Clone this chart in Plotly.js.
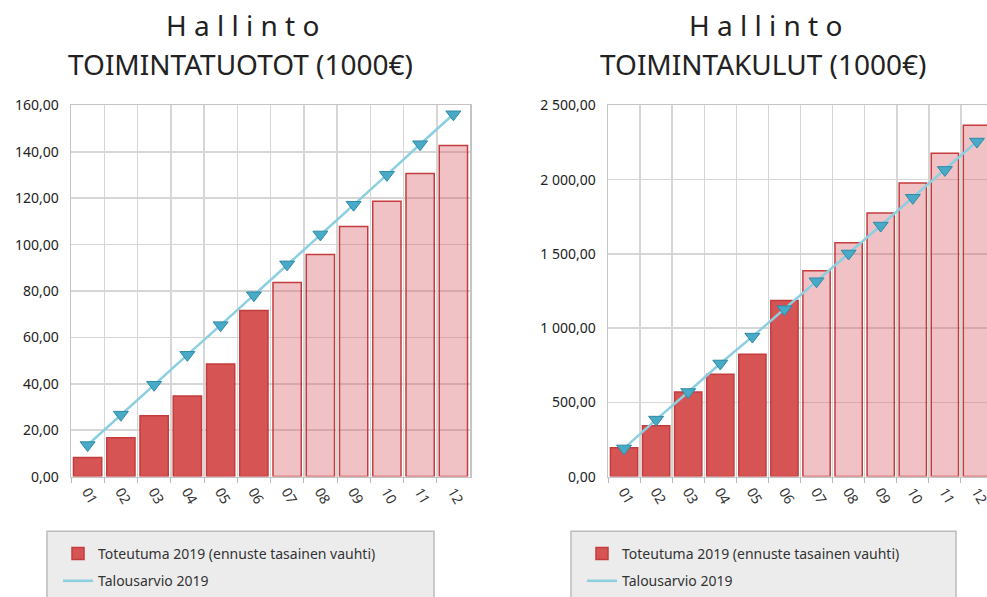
<!DOCTYPE html>
<html>
<head>
<meta charset="utf-8">
<script src="https://cdn.plot.ly/plotly-3.0.1.min.js"></script>
<style>
html,body{margin:0;padding:0;overflow:hidden;background:#fff;}
#chart{width:1000px;height:597px;}
</style>
</head>
<body>
<div id="chart"></div>
<script>
// ---- data ----
const months = ['01','02','03','04','05','06','07','08','09','10','11','12'];
const actualMonthCount = 6; // months 01-06 actual, rest forecast

const tuototActual = [8.2, 16.7, 26.2, 34.7, 48.5, 71.6, 83.7, 95.7, 107.8, 118.7, 130.7, 142.7];
const tuototBudget = [13.6, 26.7, 39.6, 52.5, 65.3, 78.2, 91.5, 104.4, 117.2, 130.1, 143.3, 156.2];

const kulutActual = [194, 342, 570, 690, 824, 1186, 1387, 1575, 1776, 1977, 2178, 2366];
const kulutBudget = [190, 384, 570, 762, 943, 1128, 1316, 1503, 1691, 1878, 2066, 2257];

const titleTop = 'H a l l i n t o';
const titleLeft = 'TOIMINTATUOTOT (1000€)';
const titleRight = 'TOIMINTAKULUT (1000€)';
const nameActual = 'Toteutuma 2019 (ennuste tasainen vauhti)';
const nameBudget = 'Talousarvio 2019';

// ---- styles ----
const W = 1000, H = 597;
const FONT = 'Noto Sans, Open Sans, sans-serif';
const solidRed = 'rgb(214,84,84)';
const paleRed = 'rgba(215,95,105,0.38)';
const barColors = months.map((m, i) => i < actualMonthCount ? solidRed : paleRed);
const lineColor = '#8ccfe0';
const markerColor = '#48aac6';

function barTrace(y, xa, ya, legend) {
  return {type:'bar', x: months, y: y, xaxis: xa, yaxis: ya, name: nameActual,
    legend: legend, legendgroup: 'a' + legend,
    marker: {color: barColors, line: {color: '#c43c3c', width: 1.5}},
    hoverinfo: 'x+y'};
}
function lineTrace(y, xa, ya, legend) {
  return {type:'scatter', mode:'lines', x: months, y: y, xaxis: xa, yaxis: ya, name: nameBudget,
    legend: legend, legendgroup: 'b' + legend,
    line: {color: lineColor, width: 2.5}};
}
function markerTrace(y, xa, ya, legend) {
  return {type:'scatter', mode:'markers', x: months, y: y, xaxis: xa, yaxis: ya, name: nameBudget,
    legend: legend, showlegend: false,
    marker: {symbol: 'triangle-down', size: 13, color: markerColor, line: {color: '#2f8aa5', width: 1}}};
}

const data = [
  barTrace(tuototActual, 'x', 'y', 'legend'),
  lineTrace(tuototBudget, 'x', 'y', 'legend'),
  markerTrace(tuototBudget, 'x', 'y', 'legend'),
  barTrace(kulutActual, 'x2', 'y2', 'legend2'),
  lineTrace(kulutBudget, 'x2', 'y2', 'legend2'),
  markerTrace(kulutBudget, 'x2', 'y2', 'legend2')
];

const py = v => (H - v) / H;
const px = v => v / W;

function xAxis(d0, d1, anchor) {
  return {domain: [px(d0), px(d1)], anchor: anchor, type: 'category', tickson: 'boundaries',
    range: [-0.5, months.length - 0.5], autorange: false,
    showgrid: true, gridcolor: '#d6d6d6', gridwidth: 1.5,
    showline: true, linecolor: '#c4c4c4', linewidth: 1.5, mirror: true,
    ticks: 'outside', ticklen: 5, tickcolor: '#b8b8b8', tickangle: 60,
    tickfont: {family: FONT, size: 14, color: '#333'}, fixedrange: true};
}
function yAxis(range, dtick, anchor) {
  return {domain: [py(479), py(106)], anchor: anchor, range: range, dtick: dtick,
    tickformat: ',.2f', showgrid: true, gridcolor: '#d6d6d6', gridwidth: 1.5,
    showline: true, linecolor: '#c4c4c4', linewidth: 1.5, mirror: true,
    zeroline: false, ticks: '', ticklabelstandoff: 8,
    tickfont: {family: FONT, size: 14, color: '#222'}, fixedrange: true};
}

function legendCfg(x) {
  return {x: px(x), y: py(541), xanchor: 'left', yanchor: 'top', orientation: 'v',
    bgcolor: 'rgba(0,0,0,0)', borderwidth: 0, tracegroupgap: 6,
    font: {family: FONT, size: 14, color: '#333'}};
}

function titleAnn(x, y, text) {
  return {x: px(x), y: py(y), xref: 'paper', yref: 'paper', text: text, showarrow: false,
    xanchor: 'center', yanchor: 'middle', font: {family: FONT, size: 28, color: '#222'}};
}

const layout = {
  width: W, height: H,
  margin: {l: 0, r: 0, t: 0, b: 0},
  paper_bgcolor: '#fff', plot_bgcolor: '#fff',
  separators: ', ',
  bargap: 0.15,
  showlegend: true,
  xaxis: xAxis(71, 470, 'y'),
  yaxis: yAxis([0, 160], 20, 'x'),
  xaxis2: xAxis(608, 993, 'y2'),
  yaxis2: yAxis([0, 2500], 500, 'x2'),
  legend: legendCfg(58),
  legend2: legendCfg(582),
  annotations: [
    titleAnn(242, 25, titleTop),
    titleAnn(240, 64, titleLeft),
    titleAnn(765, 25, titleTop),
    titleAnn(763, 64, titleRight)
  ],
  shapes: [
    {type: 'rect', xref: 'paper', yref: 'paper', x0: px(47), x1: px(434), y0: -0.1, y1: py(534),
      fillcolor: '#ececec', line: {color: '#bcbcbc', width: 1.5}, layer: 'below'},
    {type: 'rect', xref: 'paper', yref: 'paper', x0: px(571), x1: px(956), y0: -0.1, y1: py(534),
      fillcolor: '#ececec', line: {color: '#bcbcbc', width: 1.5}, layer: 'below'}
  ]
};

Plotly.newPlot('chart', data, layout, {displayModeBar: false, staticPlot: true});
</script>
</body>
</html>
